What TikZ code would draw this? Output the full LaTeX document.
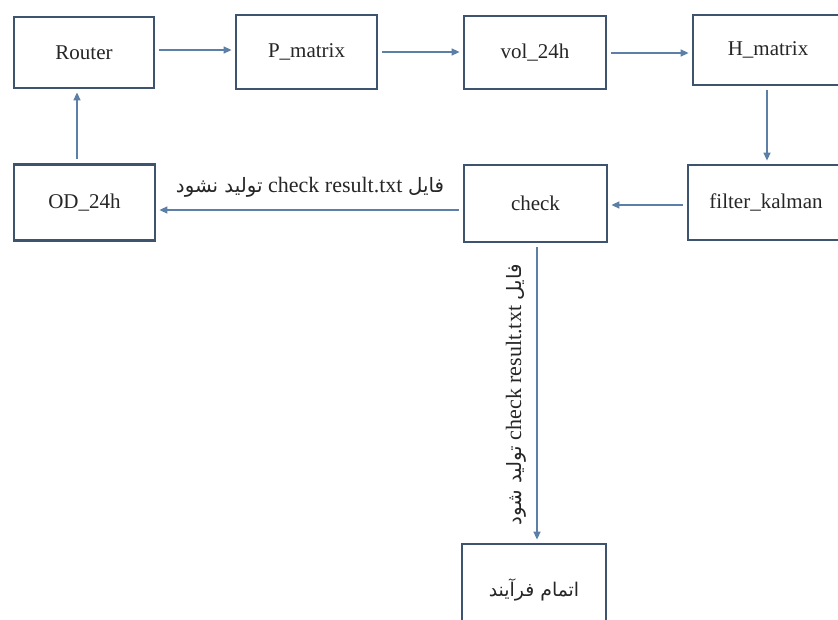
\documentclass[tikz,border=0pt]{standalone}
\usepackage{fontspec}
\setmainfont{Liberation Serif}
\newfontfamily\arabicfont[Script=Arabic,Scale=0.9]{DejaVu Sans}
\TeXXeTstate=1
\usetikzlibrary{arrows.meta}
\definecolor{boxline}{HTML}{3E536D}
\definecolor{arrline}{HTML}{5B7FA6}
\begin{document}
\begin{tikzpicture}[x=1pt,y=-1pt,
  stepbox/.style={draw=boxline,line width=2.8pt,fill=white,inner sep=0pt,
    font=\fontsize{21}{25}\selectfont,text=black!85},
  arr/.style={draw=arrline,line width=1.4pt,-{Triangle[length=8pt,width=7pt]},
    shorten >=3pt,shorten <=4pt},
  lbl/.style={font=\fontsize{22}{26}\selectfont,text=black!85,inner sep=0pt}]
\useasboundingbox (0,0) rectangle (838,619);
\clip (0,0) rectangle (838,619);
\node[stepbox,minimum width=140pt,minimum height=71pt] (router) at (84,52.5) {Router};
\node[stepbox,minimum width=141pt,minimum height=74pt] (pm) at (306.5,52) {P\_matrix};
\node[stepbox,minimum width=142pt,minimum height=73pt] (vol) at (535,52.5) {vol\_24h};
\node[stepbox,minimum width=150pt,minimum height=70pt] (hm) at (768,50) {H\_matrix};
\node[stepbox,minimum width=141pt,minimum height=76pt] (od) at (84.5,202.5) {OD\_24h};
\node[stepbox,minimum width=143pt,minimum height=77pt] (check) at (535.5,203.5) {check};
\node[stepbox,minimum width=156pt,minimum height=75pt] (fk) at (766,202.5) {filter\_kalman};
\node[stepbox,minimum width=144pt,minimum height=92pt] (end) at (534,590) {{\arabicfont\beginR اتمام فرآیند\endR}};
\draw[arr] (router.east |- 0,50) -- (pm.west |- 0,50);
\draw[arr] (pm.east |- 0,52) -- (vol.west |- 0,52);
\draw[arr] (vol.east |- 0,53) -- (hm.west |- 0,53);
\draw[arr] (hm.south -| 767,0) -- (fk.north -| 767,0);
\draw[arr] (fk.west |- 0,205) -- (check.east |- 0,205);
\draw[arr] (check.west |- 0,210) -- (od.east |- 0,210);
\draw[arr] (od.north -| 77,0) -- (router.south -| 77,0);
\draw[arr] (check.south -| 537,0) -- (end.north -| 537,0);
\node[lbl] (lab1) at (310,187) {\beginR{\arabicfont فایل} \beginL check result.txt\endL{} {\arabicfont تولید نشود}\endR};
\node[lbl,rotate=90] (lab2) at (516,395) {\beginR{\arabicfont فایل} \beginL check result.txt\endL{} {\arabicfont تولید شود}\endR};
\end{tikzpicture}
\end{document}
